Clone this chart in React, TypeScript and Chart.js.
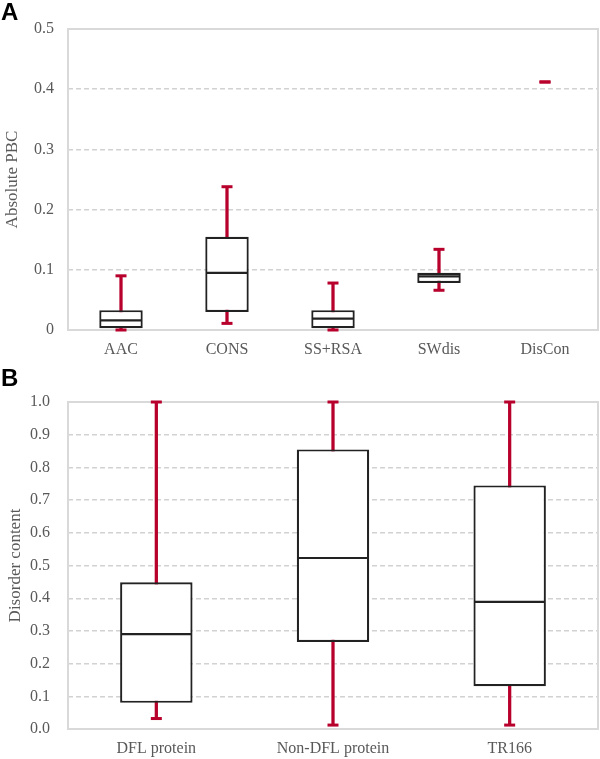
import React, { useEffect, useRef } from 'react';
import { Chart, registerables } from 'chart.js';
Chart.register(...registerables);

// ---- Panel A data ----
const categoriesA = ['AAC', 'CONS', 'SS+RSA', 'SWdis', 'DisCon'];
const minA = [0.0, 0.011, 0.0, 0.066, 0.412];
const q1A = [0.003, 0.030, 0.003, 0.078, 0.412];
const medA = [0.016, 0.095, 0.019, 0.089, 0.412];
const q3A = [0.033, 0.155, 0.033, 0.095, 0.412];
const maxA = [0.090, 0.238, 0.078, 0.134, 0.412];

// ---- Panel B data ----
const categoriesB = ['DFL protein', 'Non-DFL protein', 'TR166'];
const minB = [0.032, 0.012, 0.012];
const q1B = [0.080, 0.266, 0.131];
const medB = [0.290, 0.523, 0.389];
const q3B = [0.449, 0.855, 0.745];
const maxB = [1.0, 1.0, 1.0];

const RED = '#b8002c';
const BOX = '#222222';
const FRAME = '#d9d9d9';
const GRID = '#d2d2d2';
const TEXT = '#595959';
const SERIF = "'Liberation Serif', 'Times New Roman', serif";

type BoxData = { cats: string[]; min: number[]; q1: number[]; med: number[]; q3: number[]; max: number[] };

function makePlugin(d: BoxData) {
  return {
    id: 'boxExtras',
    beforeDatasetsDraw(chart: any) {
      const { ctx, chartArea: a } = chart;
      ctx.save();
      ctx.strokeStyle = FRAME;
      ctx.lineWidth = 2;
      ctx.strokeRect(a.left, a.top, a.right - a.left, a.bottom - a.top);
      ctx.restore();
    },
    afterDatasetsDraw(chart: any) {
      const { ctx } = chart;
      const xs = chart.scales.x;
      const ys = chart.scales.y;
      const boxMeta = chart.getDatasetMeta(1);
      ctx.save();
      d.cats.forEach((_, i) => {
        const cx = xs.getPixelForValue(i);
        const hw = boxMeta.data[i].width / 2;
        if (d.q3[i] > d.q1[i]) {
          const my = ys.getPixelForValue(d.med[i]);
          ctx.strokeStyle = BOX;
          ctx.lineWidth = 2.2;
          ctx.beginPath();
          ctx.moveTo(cx - hw + 1, my);
          ctx.lineTo(cx + hw - 1, my);
          ctx.stroke();
        }
        ctx.fillStyle = RED;
        const capW = 11;
        [d.min[i], d.max[i]].forEach((v) => {
          const py = ys.getPixelForValue(v);
          ctx.fillRect(cx - capW / 2, py - 1.5, capW, 3);
        });
      });
      ctx.restore();
    },
  };
}

function buildConfig(d: BoxData, o: { yMax: number; step: number; title: string; padTop: number; tickPad: number; titlePad: number; fixed: boolean }) {
  return {
    type: 'bar',
    data: {
      labels: d.cats,
      datasets: [
        {
          label: 'whisker',
          data: d.cats.map((_, i) => [d.min[i], d.max[i]]),
          backgroundColor: RED,
          borderWidth: 0,
          barThickness: 2.6,
          grouped: false,
          order: 2,
        },
        {
          label: 'box',
          data: d.cats.map((_, i) => [d.q1[i], d.q3[i]]),
          backgroundColor: '#ffffff',
          borderColor: BOX,
          borderWidth: 2.2,
          borderSkipped: false,
          barPercentage: 0.41,
          categoryPercentage: 1,
          grouped: false,
          order: 1,
        },
      ],
    },
    options: {
      responsive: false,
      animation: false,
      layout: { padding: { top: o.padTop, right: 2, left: 0, bottom: 0 } },
      plugins: { legend: { display: false }, tooltip: { enabled: false } },
      scales: {
        x: {
          grid: { display: false, drawTicks: false },
          border: { display: false },
          ticks: { color: TEXT, font: { family: SERIF, size: 16 }, padding: 10 },
          afterFit: (s: any) => { s.height = 30; },
        },
        y: {
          min: 0,
          max: o.yMax,
          grid: { color: GRID, lineWidth: 1.4, drawTicks: false },
          border: { display: false, dash: [5, 3] },
          ticks: {
            stepSize: o.step,
            color: TEXT,
            font: { family: SERIF, size: 16 },
            padding: o.tickPad,
            callback: (v: number) => (o.fixed ? v.toFixed(1) : String(Math.round(v * 10) / 10)),
          },
          title: {
            display: true,
            text: o.title,
            color: TEXT,
            font: { family: SERIF, size: 17 },
            padding: { top: o.titlePad, bottom: 0 },
          },
          afterFit: (s: any) => { s.width = 68; },
        },
      },
    },
    plugins: [makePlugin(d)],
  };
}

function BoxChart(props: { d: BoxData; o: any; height: number }) {
  const ref = useRef<HTMLCanvasElement>(null);
  useEffect(() => {
    const chart = new Chart(ref.current as HTMLCanvasElement, buildConfig(props.d, props.o) as any);
    return () => chart.destroy();
  }, []);
  return <canvas ref={ref} width={600} height={props.height} style={{ display: 'block', width: 600, height: props.height }} />;
}

const panelLabel: React.CSSProperties = {
  position: 'absolute',
  left: 1,
  fontFamily: "'Liberation Sans', Arial, sans-serif",
  fontWeight: 'bold',
  fontSize: 24,
  lineHeight: '24px',
  color: '#000',
};

export default function App() {
  const dA: BoxData = { cats: categoriesA, min: minA, q1: q1A, med: medA, q3: q3A, max: maxA };
  const dB: BoxData = { cats: categoriesB, min: minB, q1: q1B, med: medB, q3: q3B, max: maxB };
  return (
    <div style={{ position: 'absolute', left: 0, top: 0, width: 600, height: 759, background: '#fff' }}>
      <div style={{ position: 'absolute', left: 0, top: 0 }}>
        <BoxChart d={dA} height={360} o={{ yMax: 0.5, step: 0.1, title: 'Absolute PBC', padTop: 29, tickPad: 14, titlePad: 2, fixed: false }} />
      </div>
      <div style={{ position: 'absolute', left: 0, top: 360 }}>
        <BoxChart d={dB} height={399} o={{ yMax: 1.0, step: 0.1, title: 'Disorder content', padTop: 42, tickPad: 18, titlePad: 5, fixed: true }} />
      </div>
      <div style={{ ...panelLabel, top: 0 }}>A</div>
      <div style={{ ...panelLabel, top: 366 }}>B</div>
    </div>
  );
}
